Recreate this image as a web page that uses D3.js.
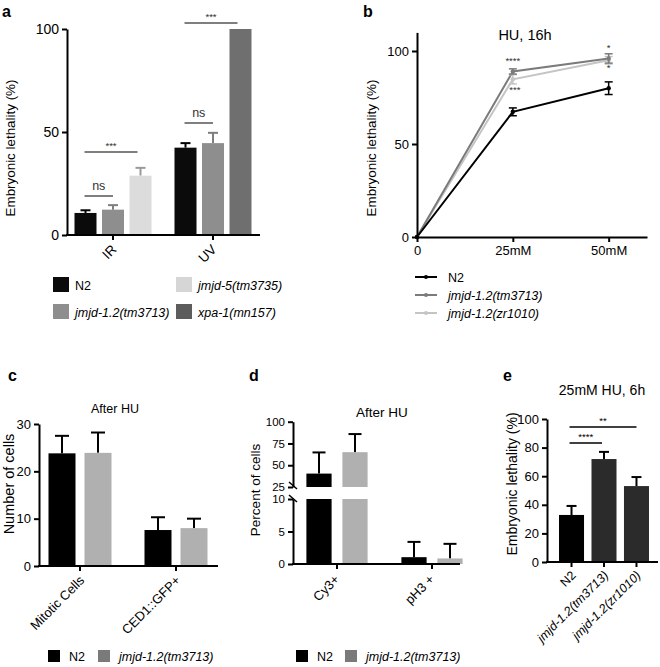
<!DOCTYPE html>
<html><head><meta charset="utf-8">
<script src="https://cdn.jsdelivr.net/npm/d3@7"></script>
<style>
body{margin:0;background:#fff;}
svg{font-family:"Liberation Sans",Arial,sans-serif;display:block;}
.axis path,.axis line{stroke:#000;stroke-width:2;}
.axis text{font-family:"Liberation Sans",Arial,sans-serif;fill:#000;}
</style>
</head><body>
<script>
// ---------- DATA ----------
// Panel a
const aGroups = ["IR","UV"];
const aSeriesIR = ["N2","jmjd-1.2(tm3713)","jmjd-5(tm3735)"];
const aSeriesUV = ["N2","jmjd-1.2(tm3713)","xpa-1(mn157)"];
const aValuesIR = [10.7, 12.3, 28.8];
const aErrIR = [1.3, 2.2, 3.8];
const aValuesUV = [42.4, 44.6, 100];
const aErrUV = [2.2, 5.0, 0];
const aLegend = ["N2","jmjd-5(tm3735)","jmjd-1.2(tm3713)","xpa-1(mn157)"];
const aYTicks = [0,50,100];
// Panel b
const bDoses = [0,25,50];
const bDoseLabels = ["0","25mM","50mM"];
const bSeries = ["N2","jmjd-1.2(tm3713)","jmjd-1.2(zr1010)"];
const bN2 = [0, 67.3, 80.0];
const bN2Err = [0, 2.1, 3.4];
const bTm = [0, 89.0, 96.0];
const bTmErr = [0, 1.4, 2.5];
const bZr = [0, 84.8, 95.0];
const bZrErr = [0, 2.5, 2.0];
const bYTicks = [0,50,100];
// Panel c
const cCats = ["Mitotic Cells","CED1::GFP+"];
const cSeries = ["N2","jmjd-1.2(tm3713)"];
const cN2 = [23.8, 7.6];
const cN2Err = [3.7, 2.7];
const cJm = [23.9, 8.0];
const cJmErr = [4.3, 2.0];
const cYTicks = [0,10,20,30];
// Panel d
const dCats = ["Cy3+","pH3 +"];
const dN2 = [40.4, 1.05];
const dN2Err = [24.3, 2.35];
const dJm = [65.0, 0.85];
const dJmErr = [20.8, 2.25];
const dYTicksLow = [0,5,10];
const dYTicksHigh = [25,50,75,100];
// Panel e
const eCats = ["N2","jmjd-1.2(tm3713)","jmjd-1.2(zr1010)"];
const eValues = [32.9, 72.0, 53.1];
const eErr = [6.3, 5.0, 6.3];
const eYTicks = [0,20,40,60,80,100];

// ---------- DRAW ----------
const svg = d3.select("body").append("svg").attr("width",660).attr("height",667);

function txt(g, x, y, s, opt={}) {
  const t = g.append("text").attr("x",x).attr("y",y).text(s)
    .attr("font-size", opt.size||11).attr("fill", opt.fill||"#000")
    .attr("text-anchor", opt.anchor||"start");
  if (opt.italic) t.attr("font-style","italic");
  if (opt.bold) t.attr("font-weight","bold");
  return t;
}
function rotLabel(g, x, y, s, size, italic) {
  g.append("text").attr("x",x).attr("y",y)
    .attr("transform",`rotate(-45, ${x}, ${y})`)
    .attr("text-anchor","end").attr("dy","0.35em").attr("font-size",size)
    .attr("font-style", italic ? "italic" : "normal").text(s);
}
function yTitle(g, x, y, s, size) {
  g.append("text").attr("transform",`translate(${x},${y}) rotate(-90)`)
    .attr("text-anchor","middle").attr("font-size",size).text(s);
}
function leftAxis(g, scale, x, ticks, size) {
  const ax = g.append("g").attr("class","axis").attr("transform",`translate(${x},0)`)
    .call(d3.axisLeft(scale).tickValues(ticks).tickSize(5).tickSizeOuter(0).tickPadding(3));
  ax.selectAll("text").attr("font-size",size);
  return ax;
}
function errBar(g, cx, y0, y1, cap, color, w) {
  g.append("line").attr("x1",cx).attr("x2",cx).attr("y1",y0).attr("y2",y1).attr("stroke",color).attr("stroke-width",w||2);
  g.append("line").attr("x1",cx-cap/2).attr("x2",cx+cap/2).attr("y1",y1).attr("y2",y1).attr("stroke",color).attr("stroke-width",w||2);
}

// ===== Panel a =====
{
  const g = svg.append("g");
  txt(g, 2, 17, "a", {size:16, bold:true});
  const y = d3.scaleLinear().domain([0,100]).range([235,29]);
  const x0 = d3.scaleBand().domain(aGroups).range([63,263]);
  const x1 = d3.scaleBand().domain([0,1,2]).range([-38.5,38.5]).paddingInner(0.2);
  const colors = {"N2":"#0b0b0b","jmjd-1.2(tm3713)":"#8e8e8e","jmjd-5(tm3735)":"#dcdcdc","xpa-1(mn157)":"#6f6f6f"};
  const legCol = {"N2":"#0b0b0b","jmjd-1.2(tm3713)":"#8e8e8e","jmjd-5(tm3735)":"#d6d6d6","xpa-1(mn157)":"#5c5c5c"};
  const errCol = {"N2":"#000","jmjd-1.2(tm3713)":"#7e7e7e","jmjd-5(tm3735)":"#9a9a9a","xpa-1(mn157)":"#6f6f6f"};
  const sets = [[aSeriesIR,aValuesIR,aErrIR],[aSeriesUV,aValuesUV,aErrUV]];
  sets.forEach(([ser,vals,errs],gi) => {
    const cx0 = x0(aGroups[gi]) + x0.bandwidth()/2;
    ser.forEach((s,i) => {
      const bx = cx0 + x1(i);
      if (errs[i] > 0) errBar(g, bx + x1.bandwidth()/2, y(vals[i]), y(vals[i]+errs[i]), 10, errCol[s], 2);
      g.append("rect").attr("x",bx).attr("width",x1.bandwidth())
        .attr("y",y(vals[i])).attr("height",y(0)-y(vals[i])).attr("fill",colors[s]);
    });
  });
  leftAxis(g, y, 67, aYTicks, 14);
  g.append("line").attr("x1",66).attr("x2",260).attr("y1",235).attr("y2",235).attr("stroke","#000").attr("stroke-width",2);
  aGroups.forEach(c => {
    const cx = x0(c)+x0.bandwidth()/2;
    g.append("line").attr("x1",cx).attr("x2",cx).attr("y1",235).attr("y2",240).attr("stroke","#000").attr("stroke-width",2);
    rotLabel(g, cx+1, 247, c, 13.5, false);
  });
  yTitle(g, 15, 148, "Embryonic lethality (%)", 13.4);
  const sig = [
    [0,0,1,196,"ns"],[0,0,2,152,"***"],[1,0,1,123,"ns"],[1,0,2,23,"***"]
  ];
  sig.forEach(([gi,i0,i1,yy,label]) => {
    const cx0 = x0(aGroups[gi]) + x0.bandwidth()/2;
    const xs = cx0 + x1(i0) + x1.bandwidth()/2 - 1;
    const xe = label==="ns" ? cx0 + x1(i1) + x1.bandwidth()/2 : cx0 + x1(i1) + x1.bandwidth()/2 - 3;
    g.append("line").attr("x1",xs).attr("x2",xe).attr("y1",yy).attr("y2",yy).attr("stroke","#555").attr("stroke-width",1.5);
    if (label==="ns") txt(g,(xs+xe)/2,yy-6,label,{size:12.5,anchor:"middle",fill:"#333"});
    else txt(g,(xs+xe)/2,yy-3,label,{size:9.5,anchor:"middle",fill:"#333"});
  });
  const lx = [53,176,53,176], ly = [277,277,304,304];
  aLegend.forEach((s,i) => {
    g.append("rect").attr("x",lx[i]).attr("y",ly[i]).attr("width",16).attr("height",15).attr("fill",legCol[s]);
    txt(g, lx[i]+22, ly[i]+13, s, {size:12.5, italic: s!=="N2"});
  });
}

// ===== Panel b =====
{
  const g = svg.append("g");
  txt(g, 363, 17, "b", {size:16, bold:true});
  const x = d3.scaleLinear().domain([0,60]).range([417,647]);
  const y = d3.scaleLinear().domain([0,110]).range([237,32.4]);
  const series = [[bN2,bN2Err,"#000"],[bTm,bTmErr,"#7b7b7b"],[bZr,bZrErr,"#c4c4c4"]];
  const line = d3.line().x((d,i)=>x(bDoses[i])).y(d=>y(d));
  [2,1,0].forEach(k => {
    const [vals,errs,col] = series[k];
    g.append("path").attr("d",line(vals)).attr("fill","none").attr("stroke",col).attr("stroke-width",2);
  });
  [2,1,0].forEach(k => {
    const [vals,errs,col] = series[k];
    vals.forEach((v,i) => {
      const cx = x(bDoses[i]);
      if (errs[i]>0) {
        g.append("line").attr("x1",cx).attr("x2",cx).attr("y1",y(v-errs[i])).attr("y2",y(v+errs[i])).attr("stroke",col).attr("stroke-width",1.5);
        [v-errs[i],v+errs[i]].forEach(e => g.append("line").attr("x1",cx-4).attr("x2",cx+4).attr("y1",y(e)).attr("y2",y(e)).attr("stroke",col).attr("stroke-width",1.5));
      }
      g.append("circle").attr("cx",cx).attr("cy",y(v)).attr("r",2.2).attr("fill",col);
    });
  });
  leftAxis(g, y, 417, bYTicks, 13);
  const ax = g.append("g").attr("class","axis").attr("transform","translate(0,237)")
    .call(d3.axisBottom(x).tickValues(bDoses).tickFormat((d,i)=>bDoseLabels[i]).tickSize(5).tickSizeOuter(0).tickPadding(4));
  ax.selectAll("text").attr("font-size",13);
  txt(g, 525, 40, "HU, 16h", {size:14.5, anchor:"middle"});
  yTitle(g, 376, 148, "Embryonic lethality (%)", 13.4);
  txt(g, x(25), y(93), "****", {size:9.5, anchor:"middle", fill:"#333"});
  txt(g, x(25)+2, y(77.5), "***", {size:9.5, anchor:"middle", fill:"#333"});
  txt(g, x(50), y(100), "*", {size:9.5, anchor:"middle", fill:"#333"});
  txt(g, x(50), y(89), "*", {size:9.5, anchor:"middle", fill:"#333"});
  bSeries.forEach((s,i) => {
    const col = series[i][2], yy = 277 + i*18;
    g.append("line").attr("x1",415).attr("x2",437).attr("y1",yy).attr("y2",yy).attr("stroke",col).attr("stroke-width",2);
    g.append("circle").attr("cx",426).attr("cy",yy).attr("r",2).attr("fill",col);
    txt(g, 448, yy+5, s, {size:12.5, italic: s!=="N2"});
  });
}

// ===== Panel c =====
{
  const g = svg.append("g");
  txt(g, 8, 381, "c", {size:16, bold:true});
  const y = d3.scaleLinear().domain([0,30]).range([566,424]);
  const x0 = d3.scaleBand().domain(cCats).range([32,224]);
  const x1 = d3.scaleBand().domain([0,1]).range([-31.5,31.5]).paddingInner(0.25);
  const cols = ["#000","#b0b0b0"];
  const data = [[cN2,cN2Err],[cJm,cJmErr]];
  cCats.forEach((c,ci) => {
    const cx0 = x0(c)+x0.bandwidth()/2;
    data.forEach(([vals,errs],si) => {
      const bx = cx0 + x1(si);
      errBar(g, bx+x1.bandwidth()/2, y(vals[ci]), y(vals[ci]+errs[ci]), 14, "#000", 2);
      g.append("rect").attr("x",bx).attr("width",x1.bandwidth()).attr("y",y(vals[ci])).attr("height",y(0)-y(vals[ci])).attr("fill",cols[si]);
    });
  });
  leftAxis(g, y, 39, cYTicks, 13);
  g.append("line").attr("x1",38).attr("x2",218).attr("y1",566).attr("y2",566).attr("stroke","#000").attr("stroke-width",2);
  cCats.forEach(c => {
    const cx = x0(c)+x0.bandwidth()/2;
    g.append("line").attr("x1",cx).attr("x2",cx).attr("y1",566).attr("y2",571).attr("stroke","#000").attr("stroke-width",2);
    rotLabel(g, cx+2, 578, c, 13, false);
  });
  txt(g, 115, 413, "After HU", {size:12.5, anchor:"middle"});
  yTitle(g, 14, 484, "Number of cells", 14.5);
  const lcols = ["#000","#7a7a7a"];
  const lxs = [48,98];
  cSeries.forEach((s,i) => {
    g.append("rect").attr("x",lxs[i]).attr("y",650).attr("width",12).attr("height",12).attr("fill",lcols[i]);
    txt(g, lxs[i]+21, 661, s, {size:12.5, italic: s!=="N2"});
  });
}

// ===== Panel d =====
{
  const g = svg.append("g");
  txt(g, 249, 381, "d", {size:16, bold:true});
  const yLow = d3.scaleLinear().domain([0,10]).range([564,499]);
  const yHigh = d3.scaleLinear().domain([25,100]).range([487,421.7]);
  const x0 = d3.scaleBand().domain(dCats).range([289.5,479.5]);
  const x1 = d3.scaleBand().domain([0,1]).range([-30.6,30.6]).paddingInner(0.3);
  const cols = ["#000","#b0b0b0"];
  const data = [[dN2,dN2Err],[dJm,dJmErr]];
  dCats.forEach((c,ci) => {
    const cx0 = x0(c)+x0.bandwidth()/2;
    data.forEach(([vals,errs],si) => {
      const bx = cx0 + x1(si), bw = x1.bandwidth(), v = vals[ci], e = errs[ci];
      if (v > 25) {
        errBar(g, bx+bw/2, yHigh(v), yHigh(v+e), 13, "#000", 2);
        g.append("rect").attr("x",bx).attr("width",bw).attr("y",yHigh(v)).attr("height",yHigh(25)-yHigh(v)).attr("fill",cols[si]);
        g.append("rect").attr("x",bx).attr("width",bw).attr("y",yLow(10)).attr("height",yLow(0)-yLow(10)).attr("fill",cols[si]);
      } else {
        errBar(g, bx+bw/2, yLow(v), yLow(v+e), 13, "#000", 2);
        g.append("rect").attr("x",bx).attr("width",bw).attr("y",yLow(v)).attr("height",yLow(0)-yLow(v)).attr("fill",cols[si]);
      }
    });
  });
  leftAxis(g, yLow, 293, dYTicksLow, 11.5);
  leftAxis(g, yHigh, 293, dYTicksHigh, 11.5);
  [[482,489],[495,502]].forEach(([a,b]) => {
    g.append("line").attr("x1",289).attr("x2",297).attr("y1",a).attr("y2",b).attr("stroke","#000").attr("stroke-width",1.5);
  });
  g.append("line").attr("x1",292).attr("x2",460).attr("y1",564).attr("y2",564).attr("stroke","#000").attr("stroke-width",2);
  dCats.forEach(c => {
    const cx = x0(c)+x0.bandwidth()/2;
    g.append("line").attr("x1",cx).attr("x2",cx).attr("y1",564).attr("y2",569).attr("stroke","#000").attr("stroke-width",2);
    rotLabel(g, cx, 577, c, 13, false);
  });
  txt(g, 382, 417, "After HU", {size:13.5, anchor:"middle"});
  yTitle(g, 260, 490, "Percent of cells", 13.5);
  const lcols = ["#000","#7a7a7a"];
  const lxs = [296,345];
  cSeries.forEach((s,i) => {
    g.append("rect").attr("x",lxs[i]).attr("y",650).attr("width",12).attr("height",12).attr("fill",lcols[i]);
    txt(g, lxs[i]+21, 661, s, {size:12.5, italic: s!=="N2"});
  });
}

// ===== Panel e =====
{
  const g = svg.append("g");
  txt(g, 503, 381, "e", {size:16, bold:true});
  const y = d3.scaleLinear().domain([0,100]).range([562,419]);
  const x = d3.scaleBand().domain(eCats).range([547,661]).paddingInner(0.23).paddingOuter(0.37);
  const cols = ["#000","#2b2b2b","#2b2b2b"];
  eCats.forEach((c,i) => {
    const bx = x(c), bw = x.bandwidth();
    errBar(g, bx+bw/2, y(eValues[i]), y(eValues[i]+eErr[i]), 10, "#000", 2);
    g.append("rect").attr("x",bx).attr("width",bw).attr("y",y(eValues[i])).attr("height",y(0)-y(eValues[i])).attr("fill",cols[i]);
  });
  leftAxis(g, y, 547, eYTicks, 13);
  g.append("line").attr("x1",546).attr("x2",658).attr("y1",562).attr("y2",562).attr("stroke","#000").attr("stroke-width",2);
  eCats.forEach(c => {
    const cx = x(c)+x.bandwidth()/2;
    g.append("line").attr("x1",cx).attr("x2",cx).attr("y1",562).attr("y2",567).attr("stroke","#000").attr("stroke-width",2);
    rotLabel(g, cx+2, 573, c, 12.5, c!=="N2");
  });
  const c0 = x(eCats[0])+x.bandwidth()/2 - 2;
  const c1 = x(eCats[1])+x.bandwidth()/2 - 2;
  const c2 = x(eCats[2])+x.bandwidth()/2;
  g.append("line").attr("x1",c0).attr("x2",c1).attr("y1",443).attr("y2",443).attr("stroke","#000").attr("stroke-width",1.5);
  txt(g,(c0+c1)/2,440,"****",{size:9.5,anchor:"middle"});
  g.append("line").attr("x1",c0).attr("x2",c2).attr("y1",427).attr("y2",427).attr("stroke","#000").attr("stroke-width",1.5);
  txt(g,(c0+c2)/2,424,"**",{size:9.5,anchor:"middle"});
  txt(g, 602, 395, "25mM HU, 6h", {size:14, anchor:"middle"});
  yTitle(g, 517, 484, "Embryonic lethality (%)", 14);
}
</script>
</body></html>
